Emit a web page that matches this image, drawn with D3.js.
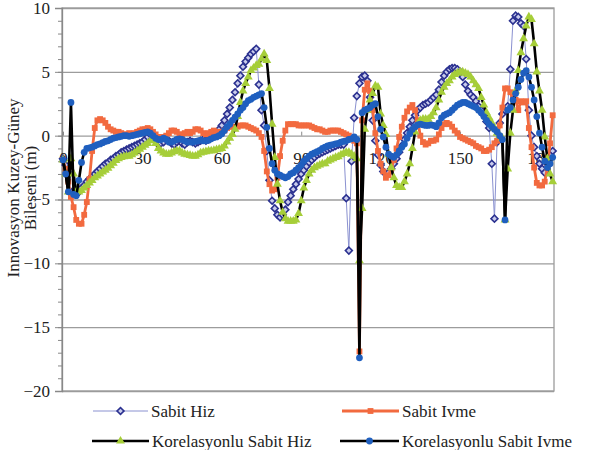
<!DOCTYPE html>
<html>
<head>
<meta charset="utf-8">
<script src="https://cdn.jsdelivr.net/npm/d3@7"></script>
<style>
  body { margin: 0; background: #fff; }
  svg { display: block; }
  svg text { font-family: "Liberation Serif", "DejaVu Serif", "Times New Roman", serif; }
</style>
</head>
<body>
<div id="chart"></div>
<script>
// tick labels
const xTickLabels = [0, 30, 60, 90, 120, 150, 180];
const yTicks = [-20, -15, -10, -5, 0, 5, 10];

// series values, one per sample (sample 0..185)
const sabitHiz = [
  -1.8, -2.3, -2.9, -4.4, -4.5, -4.6, -4.4, -4.1, -3.9, -3.6,
  -3.4, -3.2, -3.0, -2.8, -2.6, -2.4, -2.2, -2.1, -1.9, -1.8,
  -1.6, -1.5, -1.3, -1.2, -1.1, -1.0, -0.9, -0.8, -0.7, -0.6,
  -0.5, -0.3, -0.1, 0.1, 0.1, -0.1, -0.4, -0.6, -0.5, -0.3,
  -0.4, -0.6, -0.7, -0.5, -0.4, -0.6, -0.7, -0.5, -0.4, -0.5,
  -0.6, -0.5, -0.4, -0.3, -0.4, -0.3, -0.1, 0.0, 0.2, 0.5,
  0.8, 1.2, 1.7, 2.2, 2.8, 3.4, 4.1, 4.7, 5.4, 5.8,
  6.1, 6.4, 6.6, 6.8, 4.0, 2.0, 0.8, -1.2, -3.5, -5.1,
  -5.7, -6.2, -6.4, -6.2, -5.8, -5.2, -4.7, -4.2, -3.8, -3.4,
  -3.0, -2.7, -2.4, -2.1, -1.9, -1.7, -1.5, -1.4, -1.3, -1.2,
  -1.1, -1.0, -0.9, -0.8, -0.7, -0.7, -0.7, -4.9, -9.0, -2.0,
  1.4, 3.1, 4.1, 4.6, 4.7, 4.3, 3.0, 1.2, -0.4, -1.5,
  -2.3, -2.8, -3.0, -2.9, -2.6, -2.2, -1.8, -1.3, -0.8, -0.3,
  0.2, 0.7, 1.2, 1.6, 2.0, 2.2, 2.4, 2.5, 2.6, 2.8,
  3.0, 3.2, 3.6, 4.2, 4.7, 5.0, 5.2, 5.3, 5.3, 5.2,
  5.0, 4.6, 4.0, 3.5, 3.2, 3.0, 2.7, 2.3, 2.0, 1.6,
  1.1, 0.6, -2.2, -6.5, -0.5, 1.0, 1.7, 2.0, 2.3, 5.2,
  9.0, 9.4, 9.3, 8.8, 8.6, 6.0, 2.0, 0.0, -0.9, -1.6,
  -2.2, -2.6, -2.9, -2.2, -1.5, -1.2
];

const sabitIvme = [
  -1.9, -2.6, -3.6, -4.8, -5.6, -6.6, -6.9, -6.9, -6.2, -5.2,
  -3.4, -1.2, 0.6, 1.2, 1.3, 1.2, 1.0, 0.7, 0.5, 0.4,
  0.3, 0.3, 0.2, 0.1, 0.1, 0.2, 0.1, 0.2, 0.3, 0.4,
  0.5, 0.5, 0.6, 0.5, 0.3, 0.1, -0.1, -0.2, -0.1, 0.0,
  0.2, 0.4, 0.4, 0.3, 0.1, 0.1, 0.2, 0.3, 0.2, 0.3,
  0.5, 0.5, 0.4, 0.2, 0.1, 0.2, 0.3, 0.4, 0.3, 0.2,
  0.3, 0.4, 0.6, 0.7, 0.7, 0.6, 0.7, 0.8, 0.8, 0.8,
  0.7, 0.6, 0.5, 0.4, 0.2, -0.1, -1.2, -2.8, -3.8, -4.3,
  -4.2, -3.3, -1.6, -0.4, 0.4, 0.9, 0.9, 0.9, 0.9, 0.8,
  0.8, 0.8, 0.8, 0.8, 0.7, 0.6, 0.5, 0.5, 0.4, 0.3,
  0.3, 0.4, 0.4, 0.4, 0.4, 0.3, 0.2, 0.1, 0.0, -0.2,
  -0.4, -0.6, -16.9, 1.2, 3.6, 4.1, 3.5, 2.0, 0.2, -1.2,
  -2.2, -2.8, -3.3, -3.1, -2.6, -1.9, -1.0, -0.1, 0.7, 1.4,
  1.9, 2.2, 2.4, 2.0, 1.2, 0.0, -0.5, -0.7, -0.6, -0.4,
  -0.4, -0.3, 0.1, 0.6, 0.9, 1.0, 0.9, 0.7, 0.4, 0.2,
  -0.1, -0.2, -0.3, -0.4, -0.5, -0.6, -0.8, -0.9, -1.0, -1.2,
  -1.2, -1.1, -0.9, -0.6, -0.4, 0.8, 2.2, 3.7, 3.7, 3.4,
  3.1, 2.8, 2.0, 2.7, 2.6, 2.7, 0.6, -0.9, -2.5, -3.7,
  -3.9, -3.9, -3.6, -2.5, -0.6, 1.6
];

const korSabitHiz = [
  -1.9, -3.0, -4.4, -1.8, -3.0, -4.4, -4.4, -4.3, -4.1, -3.9,
  -3.7, -3.5, -3.3, -3.15, -3.0, -2.85, -2.7, -2.55, -2.35, -2.15,
  -1.95, -1.8, -1.7, -1.65, -1.6, -1.6, -1.5, -1.35, -1.2, -1.05,
  -0.9, -0.75, -0.6, -0.4, -0.3, -0.6, -1.0, -1.2, -1.35, -1.45,
  -1.45, -1.35, -1.25, -1.2, -1.2, -1.35, -1.45, -1.5, -1.55, -1.6,
  -1.6, -1.5, -1.35, -1.3, -1.25, -1.2, -1.2, -1.15, -1.1, -1.05,
  -1.0, -0.8, -0.5, -0.2, 0.1, 0.5, 1.5, 2.6, 3.5, 4.1,
  4.6, 5.1, 5.3, 5.5, 5.6, 6.0, 6.4, 5.9, 3.7, 0.9,
  -1.7, -3.8, -5.1, -6.0, -6.5, -6.7, -6.7, -6.7, -6.6, -6.1,
  -5.1, -4.1, -3.5, -3.0, -2.7, -2.5, -2.4, -2.3, -2.2, -2.2,
  -2.0, -1.9, -1.8, -1.7, -1.65, -1.5, -1.4, -1.3, -1.3, -1.45,
  -1.6, -1.8, -9.8, -5.7, 0.5, 2.0, 2.8, 3.3, 3.9, 3.8,
  1.7, 0.8, 0.1, -1.5, -2.5, -3.3, -3.9, -4.05, -4.05, -3.6,
  -3.0, -2.2, -1.0, 0.3, 0.9, 1.2, 1.3, 1.3, 1.3, 1.5,
  1.8, 2.2, 2.8, 3.4, 3.8, 4.1, 4.3, 4.6, 4.8, 4.9,
  5.0, 5.0, 4.9, 4.8, 4.6, 4.3, 4.0, 3.7, 3.0, 2.4,
  1.8, 1.4, 1.0, 0.6, 0.2, 0.0, -0.2, -6.6, -2.6, 0.2,
  2.0, 3.5, 5.1, 6.5, 7.6, 8.6, 9.3, 9.1, 7.2, 5.0,
  3.5, 2.0, -0.1, -1.8, -3.0, -3.6
];

const korSabitIvme = [
  -1.9, -3.0, -4.4, 2.6, -4.6, -4.7, -3.5, -2.1, -1.3, -1.0,
  -0.95, -0.9, -0.8, -0.7, -0.65, -0.55, -0.45, -0.4, -0.3, -0.2,
  -0.15, -0.1, -0.05, 0.0, 0.0, -0.05, 0.0, 0.05, 0.1, 0.15,
  0.2, 0.25, 0.3, 0.2, 0.0, -0.2, -0.3, -0.3, -0.2, -0.3,
  -0.5, -0.5, -0.4, -0.3, -0.25, -0.3, -0.4, -0.5, -0.5, -0.5,
  -0.45, -0.4, -0.35, -0.4, -0.4, -0.35, -0.25, -0.15, -0.1, 0.0,
  0.15, 0.4, 0.7, 0.9, 1.2, 1.45, 1.7, 2.0, 2.2, 2.5,
  2.75, 2.85, 3.0, 3.1, 3.2, 3.3, 2.2, 0.65, -1.0, -2.2,
  -2.7, -3.0, -3.1, -3.2, -3.3, -3.2, -3.0, -2.9, -2.7, -2.5,
  -2.3, -2.0, -1.8, -1.6, -1.45, -1.35, -1.25, -1.15, -1.0, -0.9,
  -0.8, -0.75, -0.7, -0.65, -0.6, -0.5, -0.45, -0.4, -0.3, -0.25,
  -0.1, -0.3, -17.4, 1.8, 2.0, 2.1, 2.2, 2.4, 2.5, 1.5,
  0.5, -0.1, -0.9, -1.45, -1.6, -1.7, -1.5, -1.2, -0.9, -0.65,
  -0.2, 0.15, 0.5, 0.7, 0.85, 0.9, 0.85, 0.8, 0.8, 0.85,
  0.8, 0.7, 1.0, 1.4, 1.6, 1.7, 1.8, 2.0, 2.2, 2.4,
  2.5, 2.6, 2.6, 2.5, 2.4, 2.3, 2.2, 2.0, 1.8, 1.5,
  1.2, 0.9, 0.7, 0.5, 0.3, 0.0, -0.3, -6.6, 2.0, 2.2,
  2.8, 3.3, 3.8, 4.4, 4.9, 5.1, 4.6, 3.8, 2.8, 1.5,
  0.2, -0.9, -2.0, -2.5, -2.2, -1.7
];

const seriesNames = ['Sabit Hiz', 'Sabit Ivme', 'Korelasyonlu Sabit Hiz', 'Korelasyonlu Sabit Ivme'];

const width = 589;
const height = 450;
const plot = { left: 62, right: 554, top: 8, bottom: 391 };
const serif = '"Liberation Serif", "DejaVu Serif", "Times New Roman", serif';

const svg = d3.select('#chart')
  .append('svg')
  .attr('width', width)
  .attr('height', height)
  .attr('font-family', serif);

const x = d3.scaleLinear()
  .domain([0, 185.5])
  .range([plot.left + 1, plot.right]);

const y = d3.scaleLinear()
  .domain([-20, 10])
  .range([plot.bottom, plot.top]);

// gridlines
svg.append('g')
  .attr('transform', `translate(${plot.left},0)`)
  .call(d3.axisLeft(y).tickValues(yTicks).tickSize(-(plot.right - plot.left)).tickFormat(''))
  .call((g) => g.select('.domain').remove())
  .call((g) => g.selectAll('line').attr('stroke', '#9c9c9c').attr('stroke-width', 1.3));

// plot frame
svg.append('rect')
  .attr('x', plot.left)
  .attr('y', plot.top)
  .attr('width', plot.right - plot.left)
  .attr('height', plot.bottom - plot.top)
  .attr('fill', 'none')
  .attr('stroke', '#9c9c9c')
  .attr('stroke-width', 1.3);

// minor y ticks
svg.append('g')
  .attr('transform', `translate(${plot.left},0)`)
  .call(d3.axisLeft(y).tickValues(d3.range(-20, 10.5, 1)).tickSize(4).tickFormat(''))
  .call((g) => g.select('.domain').remove())
  .call((g) => g.selectAll('line').attr('stroke', '#888'));

// Y axis
svg.append('g')
  .attr('transform', `translate(${plot.left},0)`)
  .call(d3.axisLeft(y).tickValues(yTicks).tickSize(7).tickPadding(5))
  .attr('font-family', serif)
  .call((g) => g.select('.domain').attr('stroke', '#888').attr('stroke-width', 1.3))
  .call((g) => g.selectAll('line').attr('stroke', '#888'))
  .call((g) => g.selectAll('text')
    .attr('font-size', 17)
    .attr('fill', '#222'));

// X axis sits on the zero line
svg.append('g')
  .attr('transform', `translate(0,${y(0)})`)
  .call(d3.axisBottom(x).tickValues(xTickLabels).tickSizeInner(-4).tickSizeOuter(0).tickPadding(16))
  .attr('font-family', serif)
  .call((g) => g.select('.domain').remove())
  .call((g) => g.selectAll('line').attr('stroke', '#888'))
  .call((g) => g.selectAll('text')
    .attr('font-size', 17)
    .attr('fill', '#222'));

// Y axis title
const yTitle = svg.append('text')
  .attr('transform', 'translate(0,188) rotate(-90)')
  .attr('text-anchor', 'middle')
  .attr('font-size', 17)
  .attr('fill', '#222');
yTitle.append('tspan').attr('x', 0).attr('y', 19).text('Innovasyon Kuzey-Güney');
yTitle.append('tspan').attr('x', 0).attr('y', 36).text('Bileseni (m)');

// series styles
const styles = [
  { data: sabitHiz, line: '#8a91d0', lw: 1, symbol: d3.symbolSquare, size: 24, rot: 45, fill: '#c9ccec', stroke: '#2b3190', sw: 1.6 },
  { data: sabitIvme, line: '#f26a3f', lw: 2.8, symbol: d3.symbolSquare, size: 34, rot: 0, fill: '#f26a3f', stroke: 'none', sw: 0 },
  { data: korSabitHiz, line: '#000', lw: 2.6, symbol: d3.symbolTriangle, size: 34, rot: 0, fill: '#a6ce39', stroke: 'none', sw: 0 },
  { data: korSabitIvme, line: '#000', lw: 2.6, symbol: d3.symbolCircle, size: 36, rot: 0, fill: '#1f5fbf', stroke: 'none', sw: 0 },
];

const line = d3.line()
  .x((d, i) => x(i))
  .y((d) => y(d));

styles.forEach((s) => {
  const g = svg.append('g');
  g.append('path')
    .datum(s.data)
    .attr('fill', 'none')
    .attr('stroke', s.line)
    .attr('stroke-width', s.lw)
    .attr('stroke-linejoin', 'round')
    .attr('d', line);
  g.selectAll('path.m')
    .data(s.data)
    .join('path')
    .attr('class', 'm')
    .attr('transform', (d, i) => `translate(${x(i)},${y(d)}) rotate(${s.rot})`)
    .attr('d', d3.symbol(s.symbol, s.size))
    .attr('fill', s.fill)
    .attr('stroke', s.stroke)
    .attr('stroke-width', s.sw);
});

// legend
const legendPos = [
  { x0: 93, x1: 148, y: 411 },
  { x0: 342, x1: 399, y: 411 },
  { x0: 92, x1: 149, y: 441 },
  { x0: 340, x1: 399, y: 441 },
];
styles.forEach((s, i) => {
  const p = legendPos[i];
  const g = svg.append('g');
  g.append('line')
    .attr('x1', p.x0).attr('x2', p.x1)
    .attr('y1', p.y).attr('y2', p.y)
    .attr('stroke', s.line)
    .attr('stroke-width', s.lw);
  g.append('path')
    .attr('transform', `translate(${(p.x0 + p.x1) / 2},${p.y}) rotate(${s.rot})`)
    .attr('d', d3.symbol(s.symbol, s.size)())
    .attr('fill', s.fill)
    .attr('stroke', s.stroke)
    .attr('stroke-width', s.sw);
  g.append('text')
    .attr('x', p.x1 + 3)
    .attr('y', p.y)
    .attr('dy', '0.35em')
    .attr('font-size', 17)
    .attr('fill', '#222')
    .text(seriesNames[i]);
});
</script>
</body>
</html>
